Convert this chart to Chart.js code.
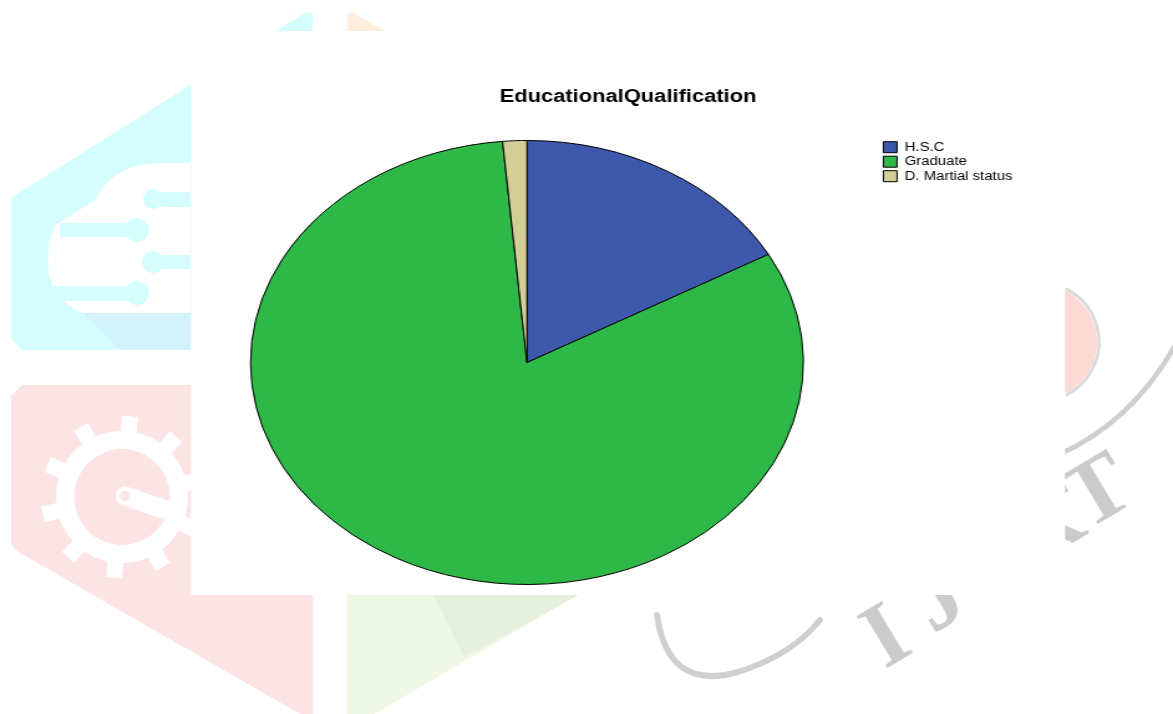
<!DOCTYPE html>
<html>
<head>
<meta charset="utf-8">
<title>EducationalQualification</title>
<script src="https://cdn.jsdelivr.net/npm/chart.js@4.4.1/dist/chart.umd.min.js"></script>
<style>
  html, body { margin: 0; padding: 0; background: #ffffff; }
  #pie { display: block; }
</style>
</head>
<body>
<!-- canvas is drawn narrower and stretched out to the page width -->
<canvas id="pie" width="942" height="714" style="width: 1173px; height: 714px;"></canvas>
<script>
const categories = ['H.S.C', 'Graduate', 'D. Martial status'];
const counts = [12, 58, 1];
const sliceColors = ['#3E58AC', '#2EB848', '#D3CE97'];
const chartTitle = 'EducationalQualification';

const STRETCH = 1173 / 942;
const panel = { left: 191, top: 31, right: 1065, bottom: 595 }; // page pixels

function fillPoly(ctx, pts, color) {
  ctx.fillStyle = color;
  ctx.beginPath();
  pts.forEach(([x, y], i) => (i ? ctx.lineTo(x, y) : ctx.moveTo(x, y)));
  ctx.closePath();
  ctx.fill();
}

function dot(ctx, x, y, r, color) {
  ctx.fillStyle = color;
  ctx.beginPath();
  ctx.arc(x, y, r, 0, Math.PI * 2);
  ctx.fill();
}

// faded logo behind the chart panel
function drawLogo(ctx) {
  const cyan = '#d5fdfd', pink = '#fde4e4', green = '#eef8e4';

  // top-left quarter with the circuit cloud
  fillPoly(ctx, [[11, 198], [306, 12], [313, 14], [313, 350], [22, 350], [11, 339]], cyan);
  fillPoly(ctx, [[83, 313], [313, 313], [313, 350], [120, 350]], '#d3f3fc');
  ctx.fillStyle = '#ffffff';
  ctx.beginPath();
  ctx.moveTo(62, 221);
  ctx.lineTo(95, 200);
  ctx.quadraticCurveTo(112, 164, 160, 163);
  ctx.lineTo(190, 163);
  ctx.lineTo(190, 313);
  ctx.lineTo(83, 313);
  ctx.quadraticCurveTo(48, 300, 48, 262);
  ctx.quadraticCurveTo(48, 226, 62, 221);
  ctx.closePath();
  ctx.fill();
  ctx.fillStyle = cyan;
  ctx.fillRect(160, 192, 30, 15); dot(ctx, 153, 199, 10, cyan);
  ctx.fillRect(60, 223, 77, 14);  dot(ctx, 137, 230, 12, cyan);
  ctx.fillRect(160, 255, 30, 14); dot(ctx, 153, 262, 11, cyan);
  ctx.fillRect(53, 286, 84, 15);  dot(ctx, 137, 293, 12, cyan);

  // top-right quarter
  fillPoly(ctx, [[347, 14], [352, 12], [660, 190], [660, 350], [347, 350]], '#fdeede');

  // bottom-left quarter with the gear
  fillPoly(ctx, [[11, 396], [22, 385], [313, 385], [313, 714], [300, 714], [20, 553], [11, 545]], pink);
  const gx = 122, gy = 497;
  ctx.fillStyle = '#ffffff';
  for (let k = 0; k < 10; k++) {
    ctx.save();
    ctx.translate(gx, gy);
    ctx.rotate(k * Math.PI / 5 + 0.1);
    ctx.fillRect(-8, -81, 16, 24);
    ctx.restore();
  }
  dot(ctx, gx, gy, 66, '#ffffff');
  dot(ctx, gx, gy, 48, pink);
  ctx.strokeStyle = '#ffffff';
  ctx.lineCap = 'round';
  ctx.lineWidth = 19;
  ctx.beginPath();
  ctx.moveTo(125, 496);
  ctx.lineTo(175, 513);
  ctx.stroke();
  dot(ctx, 125, 496, 5, pink);

  // bottom-right quarter
  fillPoly(ctx, [[347, 385], [660, 385], [660, 547], [347, 730]], green);
  fillPoly(ctx, [[434, 595], [578, 595], [464, 657]], '#e5f1dc');

  // round emblem on the right
  dot(ctx, 1040, 342, 57, '#fdd9d4');
  ctx.strokeStyle = '#d9d9d9';
  ctx.lineWidth = 3;
  ctx.beginPath();
  ctx.arc(1040, 342, 59, -1.1, 1.1);
  ctx.stroke();

  ctx.strokeStyle = '#cfcfcf';
  ctx.lineWidth = 5;
  ctx.beginPath();
  ctx.moveTo(1060, 454);
  ctx.quadraticCurveTo(1135, 420, 1178, 340);
  ctx.stroke();

  ctx.lineWidth = 6;
  ctx.beginPath();
  ctx.moveTo(657, 615);
  ctx.quadraticCurveTo(668, 692, 738, 672);
  ctx.quadraticCurveTo(792, 655, 820, 620);
  ctx.stroke();

  ctx.fillStyle = '#cbcbcb';
  ctx.font = 'bold 92px "Liberation Serif", "DejaVu Serif", serif';
  ctx.textAlign = 'center';
  ctx.textBaseline = 'middle';
  [['I', 888, 640], ['J', 940, 602], ['C', 995, 566], ['R', 1048, 530], ['T', 1100, 495]]
    .forEach(([ch, x, y]) => {
      ctx.save();
      ctx.translate(x, y);
      ctx.rotate(-0.54);
      ctx.fillText(ch, 0, 0);
      ctx.restore();
    });
}

const backdropPlugin = {
  id: 'backdrop',
  beforeDraw(chart) {
    const ctx = chart.ctx;
    ctx.save();
    ctx.scale(1 / STRETCH, 1);
    drawLogo(ctx);
    ctx.fillStyle = '#ffffff';
    ctx.fillRect(panel.left, panel.top, panel.right - panel.left, panel.bottom - panel.top);
    ctx.restore();
  }
};

// heading is centred over the whole panel, not over the pie
const headingPlugin = {
  id: 'heading',
  afterDraw(chart) {
    const ctx = chart.ctx;
    ctx.save();
    ctx.font = 'bold 17.6px "Liberation Sans", Arial, sans-serif';
    ctx.fillStyle = '#000000';
    ctx.textAlign = 'center';
    ctx.textBaseline = 'alphabetic';
    ctx.fillText(chartTitle, (panel.left + panel.right) / 2 / STRETCH, 102);
    ctx.restore();
  }
};

new Chart(document.getElementById('pie'), {
  type: 'pie',
  data: {
    labels: categories,
    datasets: [{
      data: counts,
      backgroundColor: sliceColors,
      borderColor: '#000000',
      borderWidth: 1,
      radius: 222
    }]
  },
  options: {
    responsive: false,
    animation: false,
    events: [],
    layout: {
      padding: { top: 138.7, bottom: 127.7, left: 139.5, right: 118.9 }
    },
    plugins: {
      title: { display: false },
      tooltip: { enabled: false },
      legend: {
        position: 'right',
        align: 'start',
        labels: {
          boxWidth: 11,
          boxHeight: 11,
          padding: 2.5,
          color: '#000000',
          font: { family: '"Liberation Sans", Arial, sans-serif', size: 12 }
        }
      }
    }
  },
  plugins: [backdropPlugin, headingPlugin]
});
</script>
</body>
</html>
